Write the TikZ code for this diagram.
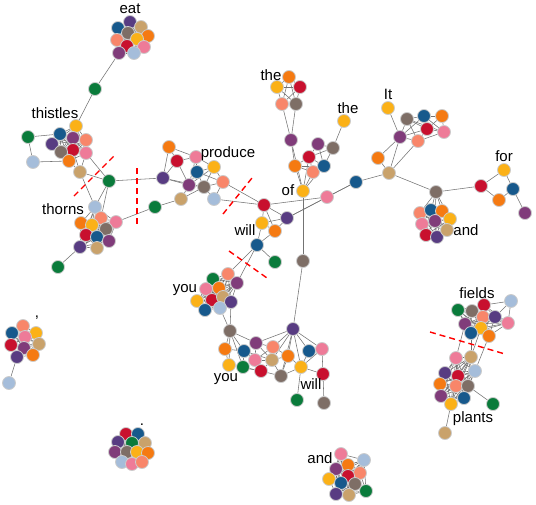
\documentclass[tikz,border=0pt]{standalone}
\usepackage{fontspec}
\setmainfont{Liberation Sans}
\usetikzlibrary{backgrounds}
\definecolor{cblue}{HTML}{17598C}
\definecolor{corange}{HTML}{F57A12}
\definecolor{cyellow}{HTML}{FBB117}
\definecolor{ccrimson}{HTML}{C8102E}
\definecolor{cpink}{HTML}{EE7B98}
\definecolor{csalmon}{HTML}{F8866A}
\definecolor{cgray}{HTML}{7E6E66}
\definecolor{ctan}{HTML}{C9A26B}
\definecolor{clblue}{HTML}{A5BDDA}
\definecolor{cmag}{HTML}{803C7A}
\definecolor{cpurp}{HTML}{583C82}
\definecolor{cgreen}{HTML}{0A7B3B}
\newcommand{\cliqueedges}[1]{%
  \foreach \a [count=\i] in {#1} {%
    \foreach \b [count=\j] in {#1} {%
      \ifnum\i<\j \draw[edge] (\a) -- (\b);\fi
    }%
  }%
}

\begin{document}
\begin{tikzpicture}[
    x=1pt, y=-1pt,
    vertex/.style={circle, draw=gray!40, line width=0.8pt, minimum size=13pt, inner sep=0pt},
    edge/.style={draw=gray!90!black, line width=0.55pt},
    word/.style={font=\fontsize{15}{18}\selectfont, anchor=base, inner sep=0pt},
    cut/.style={draw=red, line width=1.4pt, dash pattern=on 6pt off 4pt}
]
\useasboundingbox (0,0) rectangle (536,504);

% Cluster eat
\foreach \n/\x/\y/\col in {1/130/22/cpurp, 2/118/28/cblue, 3/141/27/ctan, 4/128/33/cgray,
    5/148/36/corange, 6/117/40/csalmon, 7/137/39/cyellow, 8/127/46/ccrimson,
    9/144/47/cpink, 10/119/53/cmag, 11/134/53/clblue} {
    \node[vertex, fill=\col] (eat_\n) at (\x,\y) {};
}
\node[vertex, fill=cgreen] (link_1) at (95,89) {};

% Cluster thistles
\foreach \n/\x/\y/\col in {1/76/126/cyellow, 2/28/137/cgreen, 3/60/134/cblue, 4/73/138/cmag,
    5/86/140/csalmon, 6/52/144/cpurp, 7/73/150/ccrimson, 8/86/153/cpink, 9/61/152/cgray,
    10/69/161/corange, 11/33/162/clblue, 12/80/172/ctan, 13/109/181/cgreen} {
    \node[vertex, fill=\col] (thistle_\n) at (\x,\y) {};
}

% Cluster thorns
\foreach \n/\x/\y/\col in {1/95/207/clblue, 2/101/218/csalmon, 3/116/222/cpink, 4/81/223/corange,
    5/92/225/cyellow, 6/106/229/cgray, 7/86/235/ccrimson, 8/97/237/cblue, 9/109/241/cmag,
    10/80/247/cpurp, 11/97/248/ctan, 12/58/267/cgreen} {
    \node[vertex, fill=\col] (thorn_\n) at (\x,\y) {};
}
\node[vertex, fill=cgreen] (link_2) at (155,207) {};

% Cluster produce
\foreach \n/\x/\y/\col in {1/169/147/corange, 2/177/161/ccrimson, 3/196/157/cpink, 4/214/167/cyellow,
    5/197/172/cblue, 6/163/178/cpurp, 7/189/185/cmag, 8/204/187/cgray, 9/223/182/csalmon,
    10/181/199/ctan, 11/214/199/clblue} {
    \node[vertex, fill=\col] (prod_\n) at (\x,\y) {};
}

% Cluster will
\foreach \n/\x/\y/\col in {1/264/205/ccrimson, 2/262/223/cyellow, 3/275/231/corange,
    4/287/218/cpurp, 5/257/245/cblue, 6/275/262/cgreen} {
    \node[vertex, fill=\col] (will_\n) at (\x,\y) {};
}

% Hub nodes in the middle
\foreach \n/\x/\y/\col in {1/327/197/cpink, 2/356/182/cblue, 3/389/173/ctan, 4/378/158/corange,
    5/303/261/cgray} {
    \node[vertex, fill=\col] (hub_\n) at (\x,\y) {};
}

% Cluster the (top)
\foreach \n/\x/\y/\col in {1/289/77/corange, 2/277/87/cyellow, 3/300/87/ccrimson, 4/282/104/csalmon,
    5/296/104/cgray, 6/291/140/cmag} {
    \node[vertex, fill=\col] (the_\n) at (\x,\y) {};
}

% Cluster of
\foreach \n/\x/\y/\col in {1/303/191/cyellow, 2/295/166/corange, 3/309/157/ccrimson, 4/313/172/csalmon,
    5/324/166/cblue, 6/318/144/cmag, 7/333/148/cgray, 8/344/121/cyellow} {
    \node[vertex, fill=\col] (of_\n) at (\x,\y) {};
}

% Cluster It
\foreach \n/\x/\y/\col in {1/388/108/cyellow, 2/400/137/cmag, 3/407/119/cgray, 4/424/116/cblue,
    5/442/116/corange, 6/427/129/ccrimson, 7/444/132/cpink, 8/418/141/csalmon} {
    \node[vertex, fill=\col] (it_\n) at (\x,\y) {};
}

% Cluster and (right)
\foreach \n/\x/\y/\col in {0/436/192/cgray, 1/420/213/csalmon, 2/431/210/cblue, 3/442/211/corange,
    4/450/219/cyellow, 5/422/224/cpink, 6/435/221/cmag, 7/426/235/ccrimson, 8/437/237/cpurp,
    9/447/230/ctan} {
    \node[vertex, fill=\col] (and_\n) at (\x,\y) {};
}

% Cluster for
\foreach \n/\x/\y/\col in {1/481/186/ccrimson, 2/504/170/cyellow, 3/513/189/cblue, 4/499/200/corange,
    5/525/213/cmag} {
    \node[vertex, fill=\col] (for_\n) at (\x,\y) {};
}

% Cluster you
\foreach \n/\x/\y/\col in {1/213/279/cgreen, 2/228/274/csalmon, 3/237/283/cmag, 4/206/289/cpink,
    5/219/288/corange, 6/197/301/cyellow, 7/212/300/ccrimson, 8/223/297/ctan, 9/231/302/cpurp,
    10/205/310/cblue, 11/220/308/clblue} {
    \node[vertex, fill=\col] (you_\n) at (\x,\y) {};
}

% Cluster you / will (bottom)
\foreach \n/\x/\y/\col in {1/230/331/cgray, 2/293/329/cpurp, 3/225/349/corange, 4/244/351/cblue,
    5/256/343/cmag, 6/273/347/csalmon, 7/309/351/cblue, 8/322/349/cpink, 9/229/365/cyellow,
    10/243/367/cgreen, 11/255/360/cpink, 12/272/360/ctan, 13/288/356/corange, 14/261/371/ccrimson,
    15/281/376/cgray, 16/301/367/cyellow, 17/323/374/ccrimson, 18/297/400/cgreen, 19/324/403/cgray} {
    \node[vertex, fill=\col] (bot_\n) at (\x,\y) {};
}

% Cluster fields
\foreach \n/\x/\y/\col in {1/458/310/cgreen, 2/472/311/cgray, 3/484/305/ccrimson, 4/511/301/clblue,
    5/483/317/csalmon, 6/495/317/cpurp, 7/508/323/cpink, 8/465/324/cmag, 9/481/328/cyellow,
    10/471/333/cblue, 11/489/336/corange} {
    \node[vertex, fill=\col] (fld_\n) at (\x,\y) {};
}

% Cluster plants
\foreach \n/\x/\y/\col in {1/456/358/cpink, 2/471/357/ctan, 3/475/371/clblue, 4/445/373/cpurp,
    5/458/376/ccrimson, 6/440/384/corange, 7/456/386/csalmon, 8/468/386/cgray, 9/441/396/cmag,
    10/464/398/cblue, 11/451/404/cyellow, 12/493/404/cgreen, 13/445/433/ctan} {
    \node[vertex, fill=\col] (plt_\n) at (\x,\y) {};
}

% Cluster comma
\foreach \n/\x/\y/\col in {1/23/326/csalmon, 2/12/333/cblue, 3/36/333/cyellow, 4/25/337/cpink,
    5/11/345/ccrimson, 6/39/344/ctan, 7/24/348/cmag, 8/33/355/corange, 9/17/357/cpurp,
    10/9/383/clblue} {
    \node[vertex, fill=\col] (cm_\n) at (\x,\y) {};
}

% Cluster dot
\foreach \n/\x/\y/\col in {1/126/434/ccrimson, 2/138/434/cblue, 3/118/442/cpurp, 4/132/443/cgreen,
    5/145/443/ctan, 6/115/452/cmag, 7/127/452/cgray, 8/137/452/cyellow, 9/148/453/corange,
    10/122/462/clblue, 11/132/464/cpink, 12/142/462/csalmon} {
    \node[vertex, fill=\col] (dt_\n) at (\x,\y) {};
}

% Cluster and (bottom)
\foreach \n/\x/\y/\col in {1/341/454/cpink, 2/364/460/clblue, 3/348/465/corange, 4/336/469/cmag,
    5/360/473/csalmon, 6/348/476/ccrimson, 7/329/479/cyellow, 8/341/483/cblue, 9/355/484/cgray,
    10/366/491/cgreen, 11/336/494/cpurp, 12/349/495/ctan} {
    \node[vertex, fill=\col] (nd_\n) at (\x,\y) {};
}

% Word labels
\node[word] (w_eat) at (130,13) {eat};
\node[word] (w_thistles) at (55,118) {thistles};
\node[word] (w_thorns) at (63,214) {thorns};
\node[word] (w_produce) at (228,157) {produce};
\node[word] (w_will1) at (245,235) {will};
\node[word] (w_the1) at (271,80) {the};
\node[word] (w_the2) at (348,113) {the};
\node[word] (w_it) at (388,99) {It};
\node[word] (w_of) at (288,195) {of};
\node[word] (w_for) at (504,161) {for};
\node[word] (w_and1) at (466,235) {and};
\node[word] (w_you1) at (185,292) {you};
\node[word] (w_you2) at (226,381) {you};
\node[word] (w_will2) at (311,389) {will};
\node[word] (w_fields) at (477,298) {fields};
\node[word] (w_plants) at (473,422) {plants};
\node[word] (w_comma) at (37,317) {,};
\node[word] (w_dot) at (142,425) {.};
\node[word] (w_and2) at (320,463) {and};

% Edges behind the nodes
\begin{scope}[on background layer]
\cliqueedges{eat_1,eat_2,eat_3,eat_4,eat_5,eat_6,eat_7,eat_8,eat_9,eat_10,eat_11}
\cliqueedges{thistle_1,thistle_3,thistle_4,thistle_5,thistle_6,thistle_7,thistle_8,thistle_9,thistle_10}
\cliqueedges{thorn_1,thorn_2,thorn_3,thorn_4,thorn_5,thorn_6,thorn_7,thorn_8,thorn_9,thorn_10,thorn_11}
\cliqueedges{the_1,the_2,the_3,the_4,the_5}
\cliqueedges{and_1,and_2,and_3,and_4,and_5,and_6,and_7,and_8,and_9}
\cliqueedges{you_1,you_2,you_3,you_4,you_5,you_6,you_7,you_8,you_9,you_10,you_11}
\cliqueedges{fld_1,fld_2,fld_3,fld_5,fld_6,fld_7,fld_8,fld_9,fld_10,fld_11}
\cliqueedges{plt_1,plt_2,plt_3,plt_4,plt_5,plt_6,plt_7,plt_8,plt_9,plt_10,plt_11}
\cliqueedges{cm_1,cm_2,cm_3,cm_4,cm_5,cm_6,cm_7,cm_8,cm_9}
\cliqueedges{dt_1,dt_2,dt_3,dt_4,dt_5,dt_6,dt_7,dt_8,dt_9,dt_10,dt_11,dt_12}
\cliqueedges{nd_1,nd_2,nd_3,nd_4,nd_5,nd_6,nd_7,nd_8,nd_9,nd_10,nd_11,nd_12}
\foreach \a/\b in {eat_10/link_1, link_1/thistle_1,
    thistle_2/thistle_3, thistle_2/thistle_11, thistle_11/thistle_10, thistle_12/thistle_7,
    thistle_12/thistle_8, thistle_12/thistle_10, thistle_12/thistle_13, thistle_8/thistle_13,
    thistle_12/thorn_1, thistle_13/thorn_1, thistle_13/thorn_2, thistle_13/prod_6,
    thorn_10/thorn_12, thorn_3/link_2, link_2/prod_10,
    prod_1/prod_2, prod_1/prod_3, prod_1/prod_6, prod_2/prod_3, prod_2/prod_6, prod_2/prod_7,
    prod_3/prod_5, prod_3/prod_4, prod_3/prod_7, prod_5/prod_4, prod_5/prod_7, prod_5/prod_8,
    prod_5/prod_9, prod_4/prod_9, prod_4/prod_8, prod_4/prod_7, prod_7/prod_8, prod_7/prod_6,
    prod_7/prod_10, prod_8/prod_9, prod_8/prod_11, prod_9/prod_11, prod_6/prod_8, prod_10/prod_8,
    prod_9/will_1, prod_11/will_1,
    will_1/will_2, will_1/will_3, will_1/will_4, will_2/will_3, will_2/will_4, will_3/will_4,
    will_2/will_5, will_3/will_5, will_5/will_6, will_5/you_2, will_5/you_3,
    will_1/hub_1, will_4/hub_1, will_4/hub_2, hub_1/hub_2, hub_2/hub_3, hub_3/hub_4,
    hub_4/it_2, hub_3/it_2, hub_3/it_8, hub_3/and_0, and_0/for_1,
    the_4/the_6, the_5/the_6, the_6/of_2, the_6/of_1,
    of_2/of_3, of_2/of_4, of_2/of_5, of_3/of_4, of_3/of_5, of_3/of_7, of_4/of_5, of_5/of_6,
    of_5/of_7, of_6/of_7, of_6/of_3, of_7/of_8, of_1/of_2, of_1/of_4, of_1/of_5, of_1/of_3,
    of_1/hub_5, hub_5/bot_2,
    it_1/it_2, it_2/it_3, it_2/it_6, it_2/it_8, it_2/it_4, it_3/it_4, it_3/it_6, it_3/it_8,
    it_4/it_5, it_4/it_6, it_4/it_7, it_5/it_6, it_5/it_7, it_6/it_7, it_6/it_8, it_7/it_8,
    it_3/it_7,
    and_0/and_1, and_0/and_2, and_0/and_3, and_0/and_4, and_0/and_6,
    for_1/for_2, for_1/for_4, for_2/for_3, for_3/for_4, for_3/for_5,
    you_11/bot_1, you_9/bot_1,
    bot_2/bot_5, bot_2/bot_6, bot_2/bot_7, bot_2/bot_8, bot_2/bot_12, bot_2/bot_13, bot_2/bot_15,
    bot_2/bot_16, bot_1/bot_3, bot_1/bot_4, bot_1/bot_5, bot_1/bot_9, bot_1/bot_10,
    bot_3/bot_4, bot_3/bot_9, bot_4/bot_5, bot_4/bot_10, bot_4/bot_11, bot_4/bot_12,
    bot_5/bot_6, bot_5/bot_11, bot_5/bot_12, bot_6/bot_12, bot_6/bot_13, bot_6/bot_11,
    bot_9/bot_10, bot_10/bot_11, bot_10/bot_14, bot_11/bot_14, bot_11/bot_12, bot_12/bot_14,
    bot_12/bot_15, bot_12/bot_13, bot_13/bot_16, bot_13/bot_15, bot_7/bot_8, bot_7/bot_16,
    bot_8/bot_16, bot_8/bot_17, bot_16/bot_17, bot_14/bot_15, bot_15/bot_16, bot_16/bot_18,
    bot_17/bot_19, bot_9/bot_14,
    fld_4/fld_3, fld_4/fld_6, fld_4/fld_7, fld_8/plt_1, fld_10/plt_2, fld_9/plt_2, fld_11/plt_3,
    plt_8/plt_12, plt_11/plt_13, cm_9/cm_10} {
    \draw[edge] (\a) -- (\b);
}
\end{scope}

% Red cuts
\draw[cut] (74,196) -- (114,156);
\draw[cut] (137,168) -- (137,227);
\draw[cut] (223,214) -- (252,178);
\draw[cut] (229,251) -- (267,278);
\draw[cut] (430,332) -- (505,354);

\end{tikzpicture}
\end{document}
